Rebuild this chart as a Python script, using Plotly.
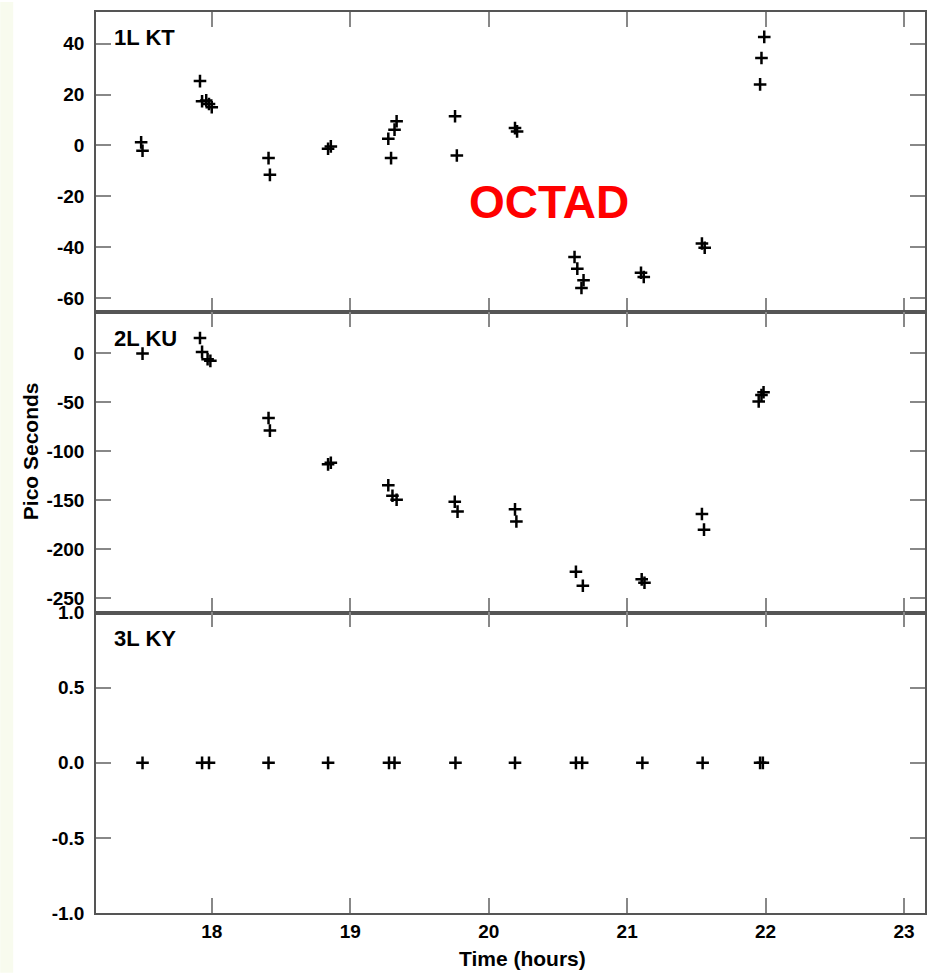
import plotly.graph_objects as go

# ---- data ----
t_kt = [17.49, 17.50, 17.915, 17.93, 17.96, 17.98, 18.00, 18.41, 18.42, 18.84, 18.86,
        19.275, 19.295, 19.32, 19.335, 19.757, 19.77, 20.19, 20.205,
        20.62, 20.64, 20.67, 20.685, 21.10, 21.12, 21.54, 21.56, 21.96, 21.97, 21.99]
v_kt = [1.2, -2.1, 25.3, 17.4, 17.7, 16.3, 15.0, -5.0, -11.6, -1.3, -0.4,
        2.6, -5.0, 6.2, 9.5, 11.5, -4.0, 6.8, 5.5,
        -43.9, -48.5, -56.1, -53.1, -50.1, -51.8, -38.6, -40.3, 24.0, 34.4, 42.7]

t_ku = [17.50, 17.915, 17.93, 17.97, 17.99, 18.41, 18.42, 18.84, 18.86,
        19.275, 19.305, 19.335, 19.755, 19.775, 20.19, 20.20, 20.63, 20.68,
        21.105, 21.125, 21.54, 21.555, 21.95, 21.97, 21.985]
v_ku = [-0.7, 15.2, 1.0, -6.4, -8.1, -66.3, -79.1, -113.5, -111.8,
        -134.7, -145.5, -149.5, -151.5, -161.6, -159.3, -171.7, -222.9, -237.1,
        -230.6, -234.0, -164.0, -180.0, -49.5, -42.8, -40.1]

t_ky = [17.50, 17.93, 17.98, 18.41, 18.84, 19.28, 19.32, 19.76, 20.19,
        20.63, 20.675, 21.11, 21.545, 21.96, 21.98]
v_ky = [0.0, 0.0, 0.0, 0.0, 0.0, 0.0, 0.0, 0.0, 0.0,
        0.0, 0.0, 0.0, 0.0, 0.0, 0.0]

panel_labels = ["1L KT", "2L KU", "3L KY"]
x_ticks = [18, 19, 20, 21, 22, 23]
y_ticks_kt = [-60, -40, -20, 0, 20, 40]
y_ticks_ku = [-250, -200, -150, -100, -50, 0]
y_ticks_ky = [-1.0, -0.5, 0.0, 0.5, 1.0]

W, H = 929, 973
ML, MR, MT, MB = 96, 2, 10, 60
PW, PH = W - ML - MR, H - MT - MB


def px(x):
    return (x - ML) / PW


def py(y):
    return (H - MB - y) / PH


def labels(vals, fmt="{:g}"):
    return [fmt.format(v) for v in vals]


FONT = "Liberation Sans, Arial, sans-serif"
marker = dict(symbol="cross-thin", size=9, color="black",
              line=dict(width=2.5, color="black"))

fig = go.Figure()
for t, v, xa, ya in [(t_kt, v_kt, "x", "y"), (t_ku, v_ku, "x2", "y2"), (t_ky, v_ky, "x3", "y3")]:
    fig.add_trace(go.Scatter(x=t, y=v, xaxis=xa, yaxis=ya, mode="markers",
                             marker=marker, showlegend=False, hoverinfo="x+y"))

tickfont = dict(family=FONT, size=19, color="black", weight="bold")
xr = [17.164, 23.151]
common = dict(showline=True, linecolor="#555", linewidth=1.5, mirror="ticks",
              ticks="inside", ticklen=15, tickwidth=1.5, tickcolor="#888",
              showgrid=False, zeroline=False, tickfont=tickfont)

fig.update_layout(
    width=W, height=H,
    margin=dict(l=ML, r=MR, t=MT, b=MB),
    paper_bgcolor="white", plot_bgcolor="white",
    xaxis=dict(common, range=xr, tickvals=x_ticks, anchor="y", domain=[0, 1],
               showticklabels=False),
    xaxis2=dict(common, range=xr, tickvals=x_ticks, anchor="y2", domain=[0, 1],
                showticklabels=False, matches="x"),
    xaxis3=dict(common, range=xr, tickvals=x_ticks, ticktext=labels(x_ticks),
                anchor="y3", domain=[0, 1], showticklabels=True, matches="x",
                ticklabelstandoff=0),
    yaxis=dict(common, range=[-65.7, 52.5], tickvals=y_ticks_kt,
               ticktext=labels(y_ticks_kt), anchor="x",
               domain=[2 / 3, 1], ticklabelstandoff=6),
    yaxis2=dict(common, range=[-264.5, 41.3], tickvals=y_ticks_ku,
                ticktext=labels(y_ticks_ku), anchor="x2",
                domain=[1 / 3, 2 / 3], ticklabelstandoff=6),
    yaxis3=dict(common, range=[-1, 1], tickvals=y_ticks_ky,
                ticktext=labels(y_ticks_ky, "{:.1f}"),
                anchor="x3", domain=[0, 1 / 3], ticklabelstandoff=6),
)

ann = []
for lab, ycen in zip(panel_labels, [36, 337, 638]):
    ann.append(dict(text=lab, xref="paper", yref="paper", x=px(112), y=py(ycen),
                    xanchor="left", yanchor="middle", showarrow=False,
                    font=dict(family=FONT, size=22, color="black", weight="bold")))
ann.append(dict(text="Pico Seconds", xref="paper", yref="paper", x=px(30), y=py(450),
                xanchor="center", yanchor="middle", textangle=-90, showarrow=False,
                font=dict(family=FONT, size=21, color="black", weight="bold")))
ann.append(dict(text="Time (hours)", xref="paper", yref="paper", x=px(524), y=py(959),
                xanchor="center", yanchor="middle", showarrow=False,
                font=dict(family=FONT, size=21, color="black", weight="bold")))
ann.append(dict(text="OCTAD", xref="paper", yref="paper", x=px(550), y=py(200),
                xanchor="center", yanchor="middle", showarrow=False,
                font=dict(family=FONT, size=46, color="#ff0000", weight="bold")))
fig.update_layout(annotations=ann)

fig.add_shape(type="rect", xref="paper", yref="paper", x0=px(0), x1=px(13),
              y0=py(H), y1=py(0), fillcolor="#f8fbee", line=dict(width=0), layer="below")

fig.write_html("out.html")
